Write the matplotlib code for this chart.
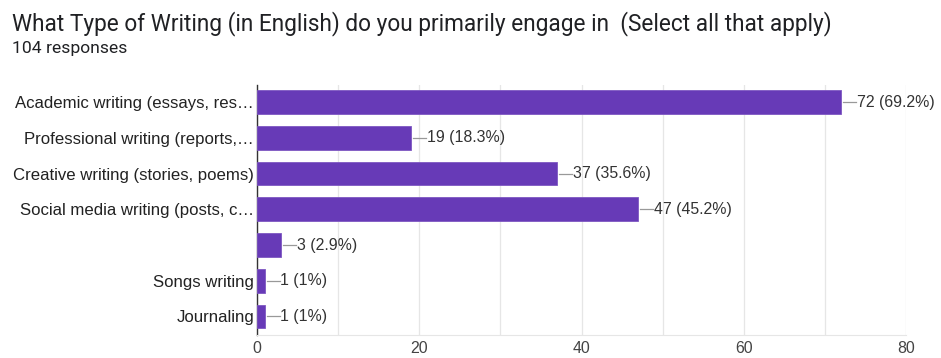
import matplotlib
matplotlib.use('Agg')
import matplotlib.pyplot as plt
from matplotlib.ticker import MultipleLocator

categories = [
    'Academic writing (essays, res…',
    'Professional writing (reports,…',
    'Creative writing (stories, poems)',
    'Social media writing (posts, c…',
    '',
    'Songs writing',
    'Journaling',
]
counts = [72, 19, 37, 47, 3, 1, 1]
labels = ['72 (69.2%)', '19 (18.3%)', '37 (35.6%)', '47 (45.2%)', '3 (2.9%)', '1 (1%)', '1 (1%)']

fig = plt.figure(figsize=(9.41, 3.58), dpi=100)
ax = fig.add_axes([0.273, 0.064, 0.69, 0.699])

ypos = list(range(len(categories)))
ax.barh(ypos, counts, height=0.66, color='#673ab7', edgecolor='#7e57c2', linewidth=0.6, zorder=3)

for y, v, lab in zip(ypos, counts, labels):
    # short leader line then the label
    ax.plot([v + 0.25, v + 1.85], [y, y], color='#999999', lw=0.9, zorder=3, clip_on=False)
    ax.text(v + 1.9, y, lab, va='center', ha='left', fontsize=11.4,
            family='Liberation Sans', color='#333333')

ax.set_yticks(ypos)
ax.set_yticklabels(categories, fontsize=12.1, family='Liberation Sans', color='#222222')
ax.set_ylim(6.52, -0.48)
ax.set_xlim(0, 80)
ax.xaxis.set_major_locator(MultipleLocator(20))
ax.xaxis.set_minor_locator(MultipleLocator(10))
ax.tick_params(axis='x', which='both', length=0, labelsize=11.4, colors='#444444', pad=4)
ax.tick_params(axis='y', length=0, pad=2)
for t in ax.get_xticklabels():
    t.set_family('Liberation Sans')
ax.grid(axis='x', which='both', color='#e6e6e6', lw=0.9, zorder=0)
for s in ['top', 'right']:
    ax.spines[s].set_visible(False)
ax.spines['bottom'].set_color('#e6e6e6')
ax.spines['left'].set_color('#333333')
ax.spines['left'].set_linewidth(1.0)

fig.text(0.013, 0.935, 'What Type of Writing (in English) do you primarily engage in  (Select all that apply)',
         fontsize=16.3, family='Roboto', color='#202124', va='center')
fig.text(0.013, 0.865, '104 responses', fontsize=12.6, family='Roboto', color='#202124', va='center')

fig.savefig('out.png', dpi=100, facecolor='white')
